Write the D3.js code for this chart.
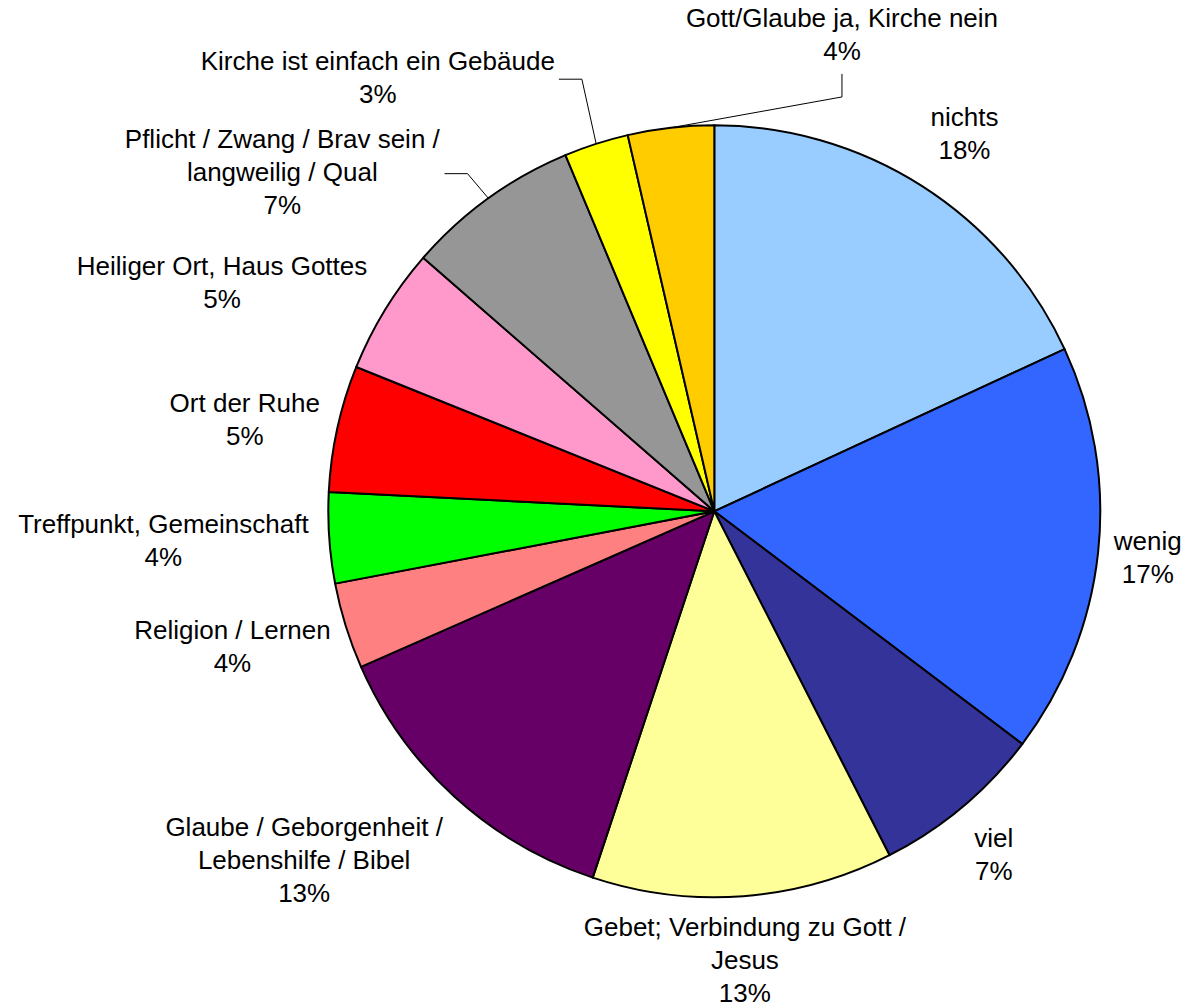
<!DOCTYPE html>
<html>
<head>
<meta charset="utf-8">
<script src="https://cdn.jsdelivr.net/npm/d3@7"></script>
<style>
  body { margin: 0; background: #fff; overflow: hidden; }
  text { font-family: "Liberation Sans", Arial, sans-serif; font-size: 26px; fill: #000; }
</style>
</head>
<body>
<div id="pie-chart"></div>
<script>
// answers, clockwise from 12 o'clock
const categories = [
  "nichts",
  "wenig",
  "viel",
  "Gebet; Verbindung zu Gott /\nJesus",
  "Glaube / Geborgenheit /\nLebenshilfe / Bibel",
  "Religion / Lernen",
  "Treffpunkt, Gemeinschaft",
  "Ort der Ruhe",
  "Heiliger Ort, Haus Gottes",
  "Pflicht / Zwang / Brav sein /\nlangweilig / Qual",
  "Kirche ist einfach ein Gebäude",
  "Gott/Glaube ja, Kirche nein"
];
const values = [18.1, 17.2, 7.2, 12.6, 13.3, 3.6, 3.8, 5.3, 5.3, 7.3, 2.7, 3.6];
const colors = ["#99CCFF", "#3366FF", "#333399", "#FFFF99", "#660066", "#FF8080",
                "#00FF00", "#FF0000", "#FF99CC", "#969696", "#FFFF00", "#FFCC00"];

document.addEventListener("DOMContentLoaded", function() {
  const width = 1189;
  const height = 1008;
  const cx = 714.3, cy = 511.3;
  const radius = 386;
  const lineH = 33;

  // hand placement of the labels (Excel moved some of them)
  const labelShift = [[10, -2], [-10, -1.5], [-7, 1], [-3, 4], [-110, 19], [-56, 2],
                      [-106, -2], [-34, 3.5], [-112, 4], [-171, 22], [-200, -9.5], [178, -34]];
  const leaders = { 9: "right", 10: "right", 11: "below" };

  const svg = d3.select("#pie-chart")
    .append("svg")
    .attr("width", width)
    .attr("height", height)
    .style("display", "block");

  const g = svg.append("g")
    .attr("transform", `translate(${cx},${cy})`);

  const total = d3.sum(values);
  const pie = d3.pie().sort(null).value(d => d);
  const arc = d3.arc().innerRadius(0).outerRadius(radius);
  const arcs = pie(values);

  g.selectAll("path.slice")
    .data(arcs)
    .enter().append("path")
    .attr("class", "slice")
    .attr("d", arc)
    .attr("fill", (d, i) => colors[i])
    .attr("stroke", "#000")
    .attr("stroke-width", 2)
    .attr("stroke-linejoin", "round");

  const polar = (a, r) => [r * Math.sin(a), -r * Math.cos(a)];

  arcs.forEach((d, i) => {
    const mid = (d.startAngle + d.endAngle) / 2;
    const p = polar(mid, radius + 60);
    const lx = p[0] + labelShift[i][0];
    const ly = p[1] + labelShift[i][1];
    const lines = categories[i].split("\n")
      .concat([Math.round(d.value / total * 100) + "%"]);

    const t = g.append("text")
      .attr("text-anchor", "middle");
    lines.forEach((s, k) => {
      t.append("tspan")
        .attr("x", lx)
        .attr("y", ly + 9.3 - (lines.length - 1) * lineH / 2 + k * lineH)
        .text(s);
    });

    if (leaders[i]) {
      const bb = t.node().getBBox();
      const end = polar(mid, radius);
      let pts;
      if (leaders[i] === "right") {
        const sx = bb.x + bb.width + 4;
        const sy = ly + 2;
        pts = [[sx, sy], [sx + 23, sy], end];
      } else {
        const sy = bb.y + bb.height + 8;
        pts = [[lx, sy], [lx, sy + 23], end];
      }
      g.append("path")
        .attr("d", d3.line()(pts))
        .attr("fill", "none")
        .attr("stroke", "#000")
        .attr("stroke-width", 1);
    }
  });
});
</script>
</body>
</html>
